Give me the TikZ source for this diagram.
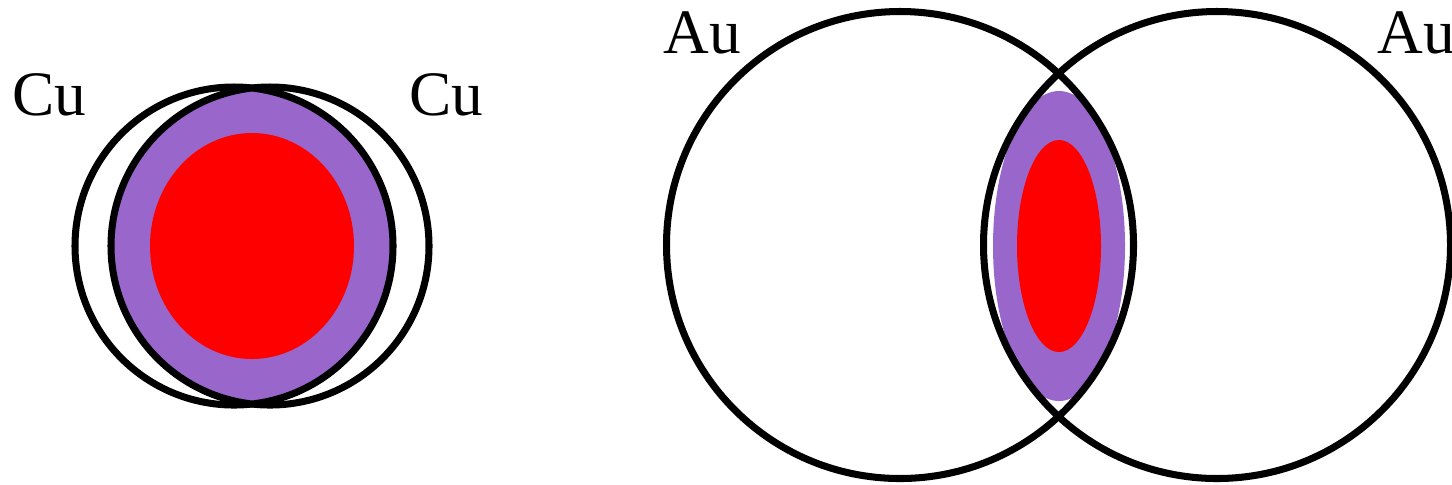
\documentclass[tikz,border=0pt]{standalone}
\usepackage{fontspec}
\setmainfont{Liberation Serif}
\usepackage{tikz}
\definecolor{overlap}{RGB}{153,102,204}
\definecolor{core}{RGB}{255,0,0}

\begin{document}
\begin{tikzpicture}[
  x=0.01cm, y=-0.01cm,
  ring/.style={draw=black, line width=2pt},
  halo/.style={fill=overlap},
  hot/.style={fill=core},
  tag/.style={inner sep=0pt, font=\fontsize{18}{18}\selectfont}
]
\useasboundingbox (0,0) rectangle (1452,484);
% Cu+Cu, nearly central
\coordinate (cuL) at (234,246);
\coordinate (cuR) at (270,246);
\coordinate (cuM) at (252,246);
\fill[halo] (cuM) ellipse [x radius=139, y radius=154];
\fill[hot] (cuM) ellipse [x radius=102, y radius=113];
\draw[ring] (cuL) circle [radius=159];
\draw[ring] (cuR) circle [radius=159];
\node[tag, anchor=base west] (cuTagL) at (12,115) {Cu};
\node[tag, anchor=base west] (cuTagR) at (409,115) {Cu};
% Au+Au, peripheral
\coordinate (auL) at (900,245);
\coordinate (auR) at (1217,245);
\coordinate (auM) at (1059,246);
\fill[halo] (auM) ellipse [x radius=66, y radius=155];
\fill[hot] (auM) ellipse [x radius=42, y radius=106];
\draw[ring] (auL) circle [radius=233.5];
\draw[ring] (auR) circle [radius=233.5];
\node[tag, anchor=base west] (auTagL) at (663,53) {Au};
\node[tag, anchor=base west] (auTagR) at (1377,53) {Au};
\end{tikzpicture}
\end{document}
